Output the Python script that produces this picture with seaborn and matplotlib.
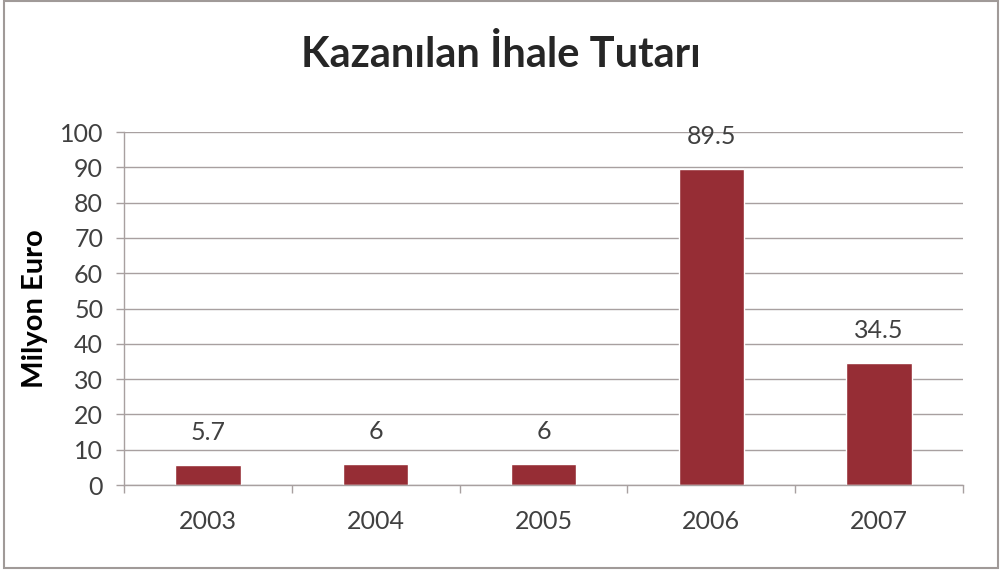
import matplotlib
matplotlib.use("Agg")
import matplotlib.pyplot as plt
import seaborn as sns
import pandas as pd
from matplotlib.patches import Rectangle

# ─── Data ─────────────────────────────────────────────────────────────────────

years  = ["2003", "2004", "2005", "2006", "2007"]
values = [5.7, 6, 6, 89.5, 34.5]
labels = ["5.7", "6", "6", "89.5", "34.5"]
yticks = [0, 10, 20, 30, 40, 50, 60, 70, 80, 90, 100]

BAR_COLOR  = "#962d35"
GRID_COLOR = "#a8a0a0"
TEXT_COLOR = "#404040"

sns.set_style("white")
plt.rcParams["font.family"] = ["Lato", "DejaVu Sans"]

df = pd.DataFrame({"year": years, "value": values})

fig = plt.figure(figsize=(10.02, 5.71), dpi=100)
ax = fig.add_axes([0.1238, 0.1506, 0.8372, 0.6182])

sns.barplot(data=df, x="year", y="value", color=BAR_COLOR, width=0.39,
            saturation=1, ax=ax)

ax.bar_label(ax.containers[0], labels=labels, padding=15,
             fontsize=18, color=TEXT_COLOR)

ax.set_xlim(-0.5, len(years) - 0.5)
ax.set_ylim(0, 100)
ax.set_yticks(yticks)
ax.set_yticklabels([str(t) for t in yticks])
ax.set_xticks([i - 0.5 for i in range(len(years) + 1)], minor=True)

ax.yaxis.grid(True, color=GRID_COLOR, linewidth=1)
ax.set_axisbelow(True)

for side in ["top", "right"]:
    ax.spines[side].set_visible(False)
for side in ["left", "bottom"]:
    ax.spines[side].set_color(GRID_COLOR)
    ax.spines[side].set_linewidth(1)

ax.tick_params(axis="y", which="major", length=6, width=1, color=GRID_COLOR,
               pad=9, labelsize=18, labelcolor=TEXT_COLOR, left=True)
ax.tick_params(axis="x", which="major", length=0, pad=18,
               labelsize=18, labelcolor=TEXT_COLOR)
ax.tick_params(axis="x", which="minor", length=6, width=1,
               color=GRID_COLOR, bottom=True)

ax.set_xlabel("")
ax.set_ylabel("Milyon Euro", fontsize=21, fontweight="bold", color="black")
ax.yaxis.set_label_coords(-0.091, 0.5)

fig.text(0.5, 0.905, "Kazanılan İhale Tutarı", ha="center", va="center",
         fontsize=30, fontweight="bold", color="#262626")

# chart frame
fig.patches.append(Rectangle((0.004, 0.006), 0.992, 0.992, transform=fig.transFigure,
                             fill=False, edgecolor="#a09a98", linewidth=1.5))

fig.savefig("out.png", dpi=100)
